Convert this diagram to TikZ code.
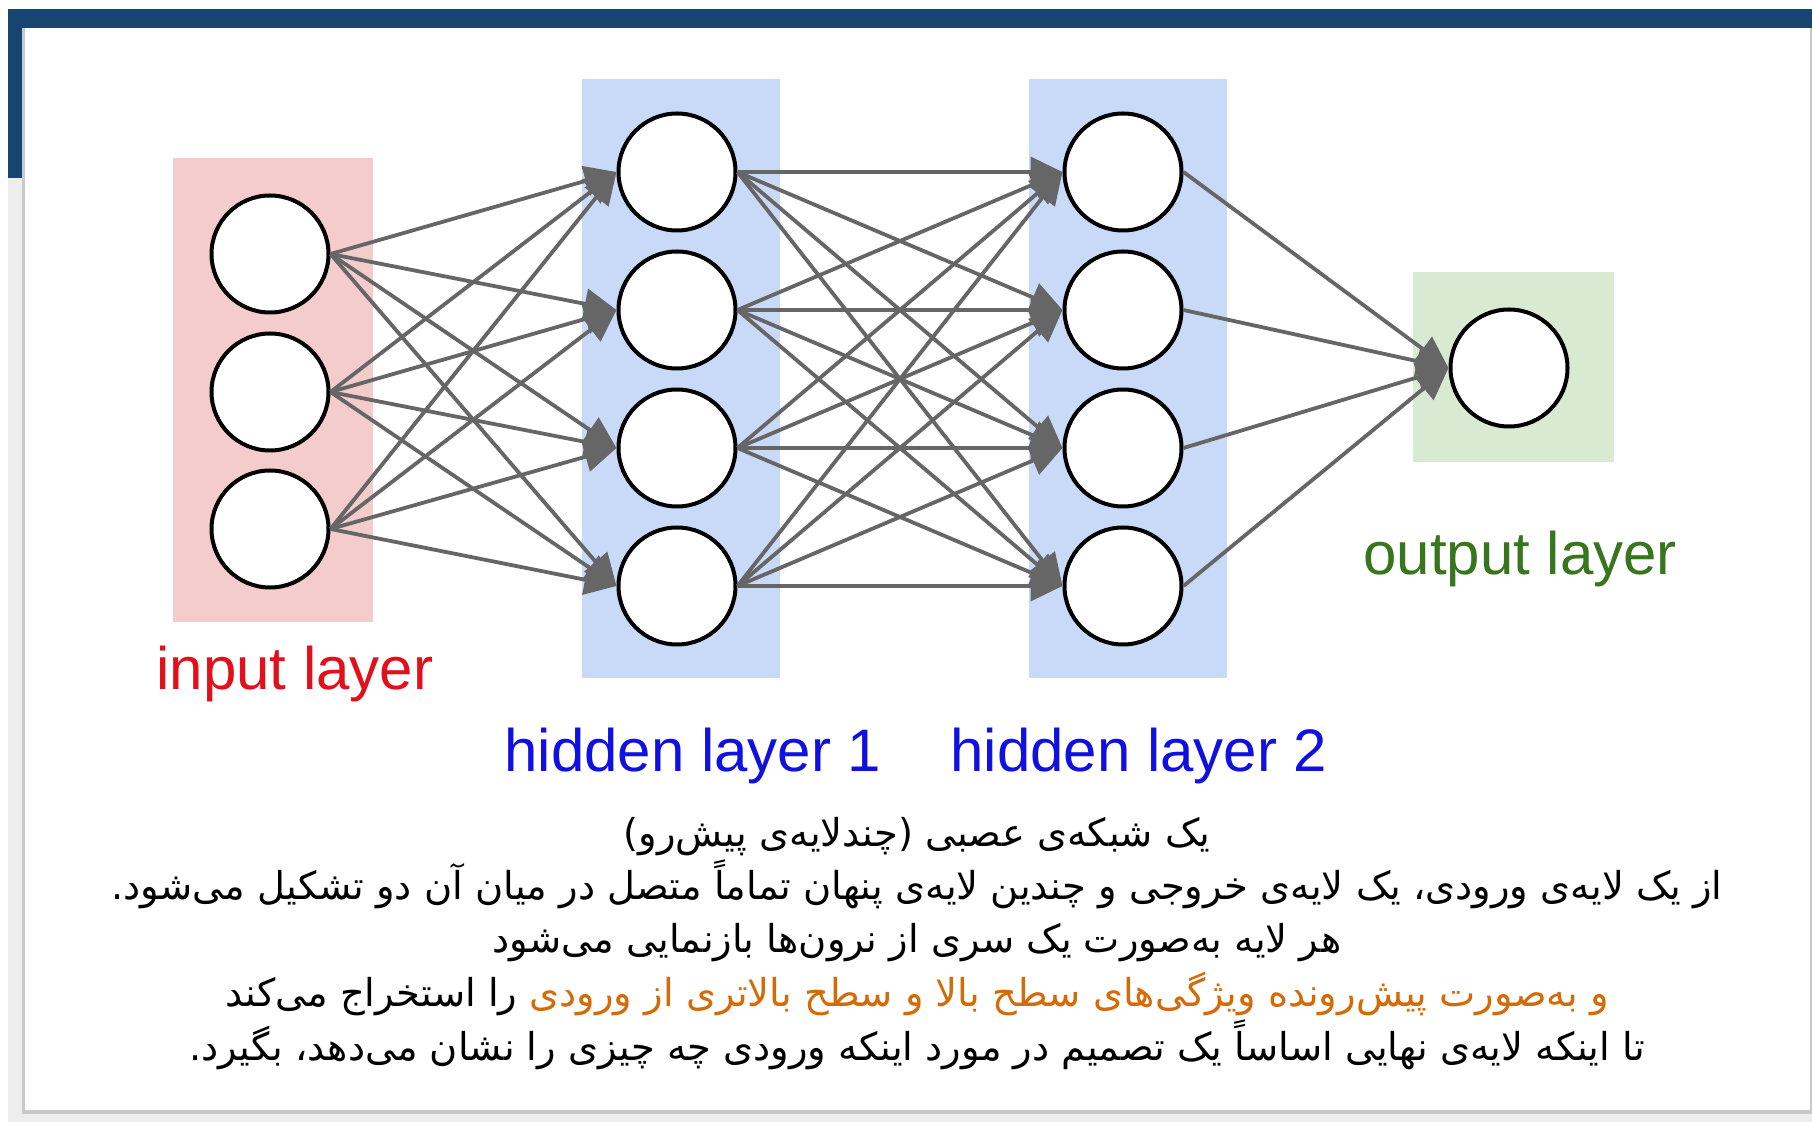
\documentclass[tikz,border=0pt]{standalone}
\usepackage{fontspec}
\setmainfont{Liberation Sans}
\newfontfamily\fafont[Script=Arabic]{DejaVu Sans}
\TeXXeTstate=1
\usetikzlibrary{arrows.meta}
\definecolor{barblue}{HTML}{17456F}
\definecolor{framegray}{HTML}{EDEDED}
\definecolor{shadowgray}{HTML}{C9C9C9}
\definecolor{inpink}{HTML}{F4CCCC}
\definecolor{hidblue}{HTML}{C9DAF8}
\definecolor{outgreen}{HTML}{D9EAD3}
\definecolor{intxt}{HTML}{E3101C}
\definecolor{hidtxt}{HTML}{1010E0}
\definecolor{outtxt}{HTML}{38761D}
\definecolor{conncol}{HTML}{666666}
\definecolor{orangetxt}{HTML}{D46B08}
\tikzset{
  neuron/.style={circle, draw=black, line width=2pt, fill=white, minimum size=58.5pt, inner sep=0pt},
  conn/.style={draw=conncol, line width=1.9pt, -{Triangle[length=16pt,width=15pt]}},
  lbl/.style={font=\fontsize{30}{36}\selectfont, inner sep=0pt, anchor=base west},
  fa/.style={font=\fafont\fontsize{19.2}{23}\selectfont, inner sep=0pt, anchor=base}
}
\begin{document}
\begin{tikzpicture}[x=0.5pt,y=-0.5pt]
\useasboundingbox (0,0) rectangle (1812,1122);
\fill[white] (0,0) rectangle (1812,1122);
% slide frame
\fill[framegray] (8,9) rectangle (1812,1122);
\fill[shadowgray] (22,28) rectangle (1812,1114);
\fill[white] (25,28) rectangle (1810,1110);
\fill[barblue] (8,9) rectangle (1812,28);
\fill[barblue] (8,9) rectangle (22,178);
% layer backgrounds
\fill[inpink] (173,158) rectangle (373,622);
\fill[hidblue] (582,79) rectangle (780,678);
\fill[hidblue] (1029,79) rectangle (1227,678);
\fill[outgreen] (1413,272) rectangle (1614,462);
% neurons
\node[neuron] (in1) at (270,254) {};
\node[neuron] (in2) at (270,392) {};
\node[neuron] (in3) at (270,529) {};
\node[neuron] (ha1) at (677,172) {};
\node[neuron] (ha2) at (677,310) {};
\node[neuron] (ha3) at (677,448) {};
\node[neuron] (ha4) at (677,586) {};
\node[neuron] (hb1) at (1123,172) {};
\node[neuron] (hb2) at (1123,310) {};
\node[neuron] (hb3) at (1123,448) {};
\node[neuron] (hb4) at (1123,586) {};
\node[neuron] (out) at (1509,368) {};
% connections
\foreach \i in {1,2,3}{\foreach \j in {1,2,3,4}{\draw[conn] (in\i.east) -- (ha\j.west);}}
\foreach \i in {1,2,3,4}{\foreach \j in {1,2,3,4}{\draw[conn] (ha\i.east) -- (hb\j.west);}}
\foreach \i in {1,2,3,4}{\draw[conn] (hb\i.east) -- (out.west);}
% labels
\node[lbl, text=intxt] (inlbl) at (156,690) {input layer};
\node[lbl, text=hidtxt] (h1lbl) at (504,772) {hidden layer 1};
\node[lbl, text=hidtxt] (h2lbl) at (950,772) {hidden layer 2};
\node[lbl, text=outtxt] (outlbl) at (1363,575) {output layer};
% caption
\node[fa] (c1) at (917,847) {\beginR یک شبکه‌ی عصبی (چندلایه‌ی پیش‌رو)\endR};
\node[fa] (c2) at (917,900) {\beginR از یک لایه‌ی ورودی، یک لایه‌ی خروجی و چندین لایه‌ی پنهان تماماً متصل در میان آن دو تشکیل می‌شود.\endR};
\node[fa] (c3) at (917,953) {\beginR هر لایه به‌صورت یک سری از نرون‌ها بازنمایی می‌شود\endR};
\node[fa] (c4) at (917,1007) {\textcolor{black}{\beginR را استخراج می‌کند\endR}\ \textcolor{orangetxt}{\beginR و به‌صورت پیش‌رونده ویژگی‌های سطح بالا و سطح بالاتری از ورودی\endR}};
\node[fa] (c5) at (917,1060) {\beginR تا اینکه لایه‌ی نهایی اساساً یک تصمیم در مورد اینکه ورودی چه چیزی را نشان می‌دهد، بگیرد.\endR};
\end{tikzpicture}
\end{document}
